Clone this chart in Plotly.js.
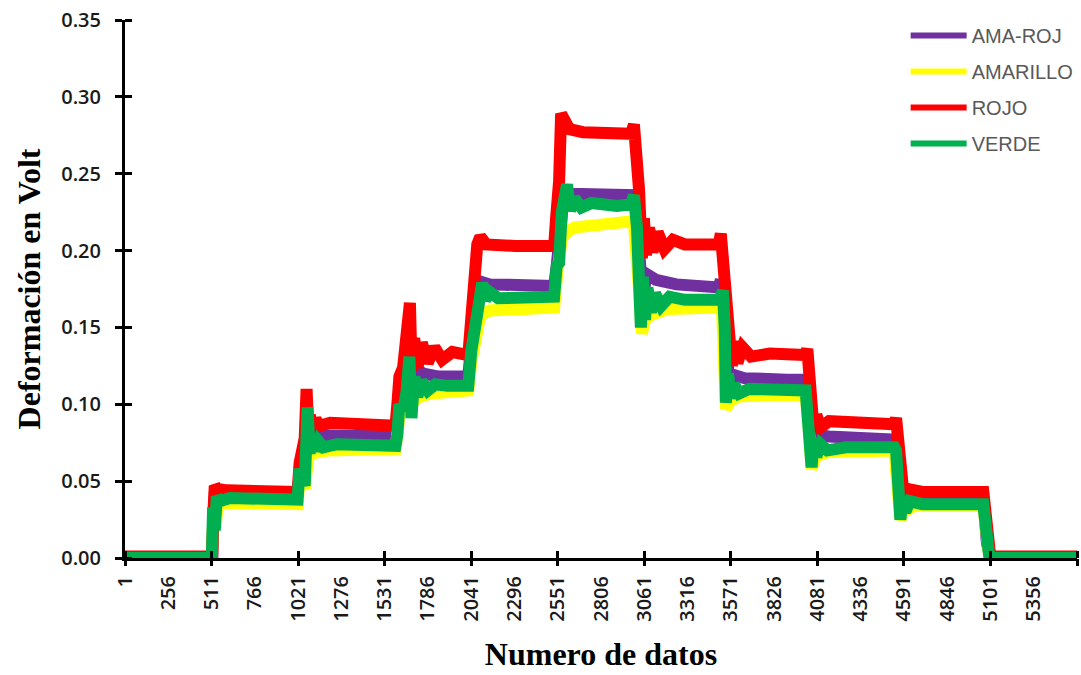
<!DOCTYPE html>
<html>
<head>
<meta charset="utf-8">
<script src="https://cdn.plot.ly/plotly-3.0.1.min.js"></script>
<style>
  html, body { margin: 0; padding: 0; background: #ffffff; }
  #chart { width: 1081px; height: 675px; }
</style>
</head>
<body>
<div id="chart"></div>
<script>
// ---- Category tick labels (Excel category axis, every 255 points) ----
const xLabelVals = [1, 256, 511, 766, 1021, 1276, 1531, 1786, 2041, 2296, 2551, 2806, 3061, 3316, 3571, 3826, 4081, 4336, 4591, 4846, 5101, 5356];
const xLabelText = ['1', '256', '511', '766', '1021', '1276', '1531', '1786', '2041', '2296', '2551', '2806', '3061', '3316', '3571', '3826', '4081', '4336', '4591', '4846', '5101', '5356'];
const xMarkVals = [1, 511, 1021, 1531, 2041, 2551, 3061, 3571, 4081, 4591, 5101, 5611];
const yTickVals = [0, 0.05, 0.10, 0.15, 0.20, 0.25, 0.30, 0.35];

// ---- Series (point index, value) ----
const amaRojX = [1, 515, 522, 530, 560, 1018, 1030, 1048, 1065, 1090, 1150, 1400, 1595, 1612, 1636, 1660, 1700, 1760, 1850, 2024, 2042, 2065, 2090, 2150, 2530, 2545, 2565, 2590, 2620, 2800, 2995, 3012, 3036, 3053, 3071, 3130, 3250, 3440, 3500, 3512, 3530, 3547, 3565, 3590, 3650, 3900, 4012, 4030, 4050, 4070, 4150, 4535, 4547, 4570, 4600, 4630, 5059, 5080, 5100, 5611];
const amaRojY = [0.000, 0.000, 0.025, 0.041, 0.040, 0.040, 0.055, 0.070, 0.076, 0.080, 0.080, 0.079, 0.079, 0.098, 0.110, 0.118, 0.124, 0.120, 0.118, 0.118, 0.140, 0.165, 0.180, 0.178, 0.177, 0.190, 0.215, 0.240, 0.237, 0.236, 0.236, 0.230, 0.190, 0.165, 0.185, 0.181, 0.178, 0.175, 0.176, 0.181, 0.160, 0.125, 0.110, 0.119, 0.117, 0.116, 0.116, 0.100, 0.075, 0.080, 0.079, 0.077, 0.075, 0.045, 0.037, 0.040, 0.039, 0.010, 0.000, 0.000];

const amarilloX = [1, 513, 522, 535, 548, 1018, 1030, 1060, 1083, 1101, 1200, 1595, 1618, 1650, 1690, 1720, 1800, 2024, 2042, 2077, 2095, 2150, 2530, 2548, 2575, 2606, 2650, 2983, 3000, 3030, 3047, 3065, 3100, 3200, 3500, 3520, 3542, 3565, 3620, 3800, 4012, 4030, 4047, 4070, 4150, 4535, 4570, 4590, 4650, 5059, 5080, 5095, 5611];
const amarilloY = [0.000, 0.000, 0.030, 0.020, 0.036, 0.035, 0.052, 0.045, 0.068, 0.068, 0.070, 0.071, 0.092, 0.098, 0.100, 0.104, 0.107, 0.109, 0.128, 0.150, 0.158, 0.161, 0.163, 0.185, 0.208, 0.212, 0.215, 0.219, 0.218, 0.175, 0.146, 0.155, 0.158, 0.162, 0.163, 0.160, 0.097, 0.102, 0.105, 0.106, 0.106, 0.085, 0.058, 0.066, 0.069, 0.070, 0.025, 0.030, 0.034, 0.034, 0.010, 0.000, 0.000];

const rojoX = [1, 515, 522, 530, 545, 600, 1018, 1030, 1045, 1060, 1071, 1080, 1090, 1105, 1125, 1150, 1210, 1400, 1595, 1606, 1618, 1640, 1650, 1665, 1680, 1690, 1705, 1725, 1750, 1785, 1825, 1870, 1930, 2024, 2042, 2065, 2077, 2095, 2130, 2300, 2530, 2542, 2559, 2571, 2590, 2620, 2700, 2983, 3000, 3012, 3030, 3047, 3059, 3071, 3089, 3110, 3140, 3180, 3230, 3300, 3500, 3512, 3530, 3547, 3565, 3577, 3590, 3610, 3640, 3690, 3800, 4012, 4022, 4035, 4050, 4060, 4075, 4100, 4150, 4300, 4535, 4545, 4560, 4575, 4590, 4610, 4700, 5059, 5070, 5085, 5100, 5611];
const rojoY = [0.001, 0.001, 0.030, 0.047, 0.045, 0.044, 0.043, 0.062, 0.070, 0.078, 0.110, 0.084, 0.093, 0.084, 0.090, 0.086, 0.088, 0.087, 0.086, 0.100, 0.118, 0.124, 0.142, 0.143, 0.166, 0.122, 0.143, 0.124, 0.140, 0.127, 0.137, 0.129, 0.134, 0.132, 0.160, 0.180, 0.204, 0.209, 0.204, 0.203, 0.203, 0.222, 0.245, 0.289, 0.284, 0.279, 0.277, 0.276, 0.282, 0.270, 0.240, 0.195, 0.221, 0.197, 0.215, 0.199, 0.212, 0.201, 0.207, 0.204, 0.204, 0.211, 0.190, 0.165, 0.143, 0.125, 0.141, 0.127, 0.137, 0.131, 0.133, 0.132, 0.136, 0.115, 0.094, 0.082, 0.093, 0.085, 0.089, 0.088, 0.087, 0.091, 0.070, 0.048, 0.040, 0.045, 0.043, 0.043, 0.030, 0.010, 0.001, 0.001];

const verdeX = [1, 513, 520, 530, 542, 560, 620, 1018, 1030, 1045, 1060, 1077, 1089, 1101, 1118, 1140, 1170, 1250, 1595, 1606, 1618, 1640, 1660, 1677, 1689, 1706, 1724, 1750, 1785, 1830, 1900, 2024, 2042, 2053, 2065, 2089, 2106, 2124, 2150, 2200, 2530, 2545, 2559, 2575, 2606, 2625, 2650, 2690, 2750, 2900, 2983, 3000, 3018, 3030, 3041, 3053, 3065, 3080, 3100, 3125, 3160, 3210, 3300, 3506, 3524, 3535, 3542, 3555, 3570, 3590, 3620, 3680, 4012, 4030, 4047, 4060, 4075, 4100, 4140, 4250, 4535, 4545, 4560, 4570, 4585, 4600, 4625, 4700, 5059, 5076, 5095, 5611];
const verdeY = [0.000, 0.000, 0.033, 0.018, 0.040, 0.037, 0.039, 0.038, 0.058, 0.050, 0.047, 0.098, 0.068, 0.080, 0.070, 0.076, 0.072, 0.074, 0.073, 0.080, 0.100, 0.096, 0.108, 0.131, 0.091, 0.118, 0.105, 0.115, 0.109, 0.113, 0.112, 0.112, 0.135, 0.145, 0.148, 0.172, 0.179, 0.168, 0.173, 0.169, 0.170, 0.190, 0.192, 0.225, 0.243, 0.226, 0.234, 0.228, 0.231, 0.229, 0.230, 0.236, 0.215, 0.180, 0.150, 0.183, 0.155, 0.176, 0.160, 0.172, 0.164, 0.170, 0.168, 0.168, 0.174, 0.150, 0.101, 0.120, 0.104, 0.113, 0.107, 0.110, 0.109, 0.090, 0.059, 0.078, 0.066, 0.074, 0.070, 0.072, 0.072, 0.070, 0.045, 0.025, 0.040, 0.030, 0.037, 0.035, 0.035, 0.015, 0.000, 0.000];

const seriesNames = ['AMA-ROJ', 'AMARILLO', 'ROJO', 'VERDE'];
const seriesColors = ['#7030a0', '#ffff00', '#ff0000', '#00b050'];

const BAND = 12;
function mk(i, xs, ys, xa) {
  return {
    type: 'scatter', mode: 'lines', name: seriesNames[i],
    legendgroup: 'g' + i, showlegend: false,
    x: xs, y: ys, xaxis: xa, yaxis: 'y',
    line: { color: seriesColors[i], width: BAND, shape: 'linear' },
    hoverinfo: 'skip'
  };
}
// legend entries (no data of their own, thinner line like the original legend)
function legendEntry(i) {
  return {
    type: 'scatter', mode: 'lines', name: seriesNames[i],
    legendgroup: 'g' + i, showlegend: true,
    x: [null], y: [null], xaxis: 'x', yaxis: 'y',
    line: { color: seriesColors[i], width: 6 },
    hoverinfo: 'skip'
  };
}

const data = [
  mk(0, amaRojX, amaRojY, 'x'),
  mk(1, amarilloX, amarilloY, 'x'),
  mk(2, rojoX, rojoY, 'x'),
  mk(3, verdeX, verdeY, 'x2'),
  legendEntry(0), legendEntry(1), legendEntry(2), legendEntry(3)
];

const tickFont = { family: 'Open Sans, Liberation Sans, Arial, sans-serif', size: 20, color: '#1a1a1a', weight: 600 };
const titleFont = { family: 'Liberation Serif, Times New Roman, serif', size: 32, color: '#000000', weight: 'bold' };
const XR = [1, 5611];

const layout = {
  width: 1081, height: 675,
  paper_bgcolor: '#ffffff', plot_bgcolor: '#ffffff',
  margin: { l: 125, r: 2, t: 20, b: 117 },
  showlegend: true,
  legend: {
    x: 0.82, y: 1.0074, xanchor: 'left', yanchor: 'top',
    bgcolor: 'rgba(0,0,0,0)',
    font: { family: 'Liberation Sans, Arial, sans-serif', size: 20, color: '#595959' },
    itemwidth: 56, tracegroupgap: 7, traceorder: 'grouped'
  },
  xaxis: {
    range: XR, autorange: false, type: 'linear',
    showgrid: false, zeroline: false,
    showline: true, linecolor: '#000000', linewidth: 3,
    tickmode: 'array', tickvals: xLabelVals, ticktext: xLabelText,
    tickangle: -90, tickfont: tickFont,
    ticks: 'outside', ticklen: 7, tickwidth: 3, tickcolor: 'rgba(0,0,0,0)',
    minor: { tickmode: 'array', tickvals: xMarkVals, ticks: 'inside', ticklen: 7, tickwidth: 3, tickcolor: '#000000', showgrid: false },
    title: { text: 'Numero de datos', font: titleFont, standoff: 22 }
  },
  xaxis2: {
    overlaying: 'x', anchor: 'y', side: 'bottom',
    range: XR, autorange: false, type: 'linear',
    showgrid: false, zeroline: false, showline: false,
    tickmode: 'array', tickvals: xMarkVals, showticklabels: false,
    ticks: 'outside', ticklen: 7, tickwidth: 3, tickcolor: '#000000'
  },
  yaxis: {
    range: [0, 0.35], autorange: false,
    showgrid: false, zeroline: false,
    showline: true, linecolor: '#000000', linewidth: 3,
    tickmode: 'array', tickvals: yTickVals, tickformat: '.2f',
    tickfont: tickFont,
    ticks: 'outside', ticklen: 7, tickwidth: 3, tickcolor: '#000000',
    ticklabelstandoff: 10,
    minor: { tickmode: 'array', tickvals: yTickVals, ticks: 'inside', ticklen: 7, tickwidth: 3, tickcolor: '#000000', showgrid: false },
    title: { text: 'Deformación en Volt', font: titleFont, standoff: 12 }
  }
};

Plotly.newPlot('chart', data, layout, { staticPlot: true, displayModeBar: false });
</script>
</body>
</html>
